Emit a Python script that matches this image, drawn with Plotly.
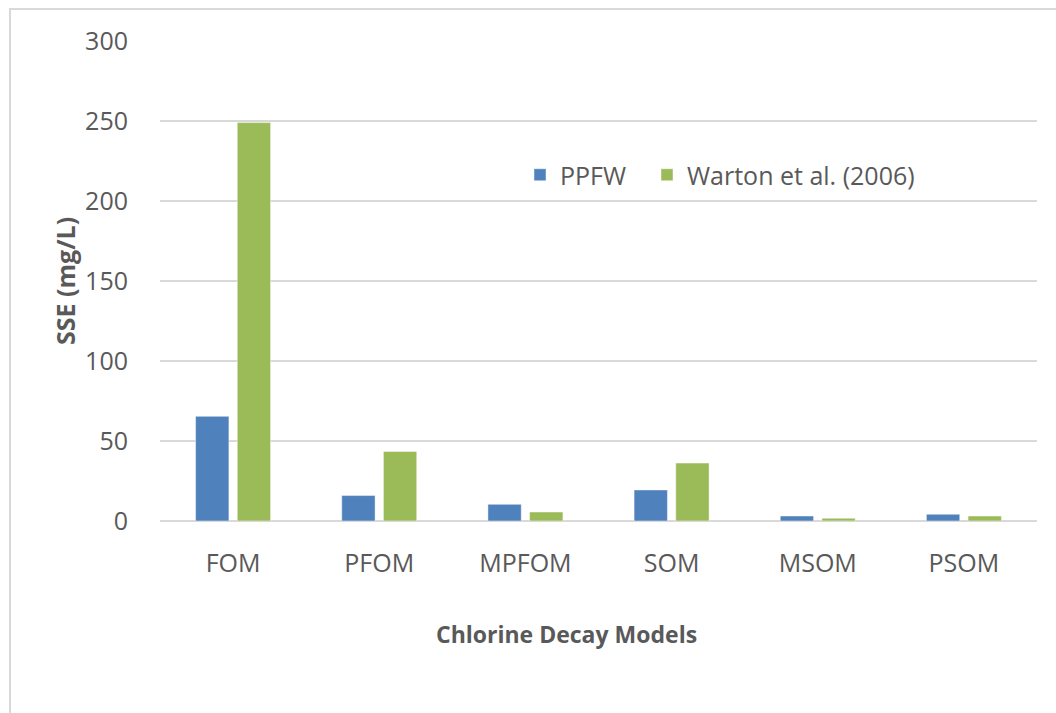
import plotly.graph_objects as go

# Chlorine decay model comparison: sum of squared errors per model
models = ["FOM", "PFOM", "MPFOM", "SOM", "MSOM", "PSOM"]
sse_ppfw = [65.4, 15.9, 10.4, 19.4, 3.1, 4.2]
sse_warton = [249, 43.4, 5.6, 36.2, 1.7, 3.1]
y_ticks = [0, 50, 100, 150, 200, 250, 300]

text_color = "#595959"
grid_color = "#d9d9d9"

fig = go.Figure()
fig.add_trace(go.Bar(
    x=models, y=sse_ppfw, name="PPFW", legend="legend",
    marker=dict(color="#4f81bd", line=dict(color="rgba(255,255,255,0.45)", width=1)),
))
fig.add_trace(go.Bar(
    x=models, y=sse_warton, name="Warton et al. (2006)", legend="legend2",
    marker=dict(color="#9bbb59", line=dict(color="rgba(255,255,255,0.45)", width=1)),
))

W, H = 1056, 713
L, R, T, B = 160, 19, 41, 192
pw, ph = W - L - R, H - T - B

def px_x(x):
    return (x - L) / pw

def px_y(y):
    return (H - B - y) / ph

def legend_at(x_px):
    return dict(
        orientation="h", x=px_x(x_px), xanchor="left",
        y=px_y(175), yanchor="middle",
        font=dict(size=25, color=text_color),
        bgcolor="rgba(0,0,0,0)", itemclick=False,
    )

fig.update_layout(
    width=W, height=H,
    margin=dict(l=L, r=R, t=T, b=B, pad=0),
    paper_bgcolor="white", plot_bgcolor="white",
    barmode="group", bargap=0.43, bargroupgap=0.2,
    font=dict(family="Open Sans", color=text_color, size=24),
    showlegend=True,
    legend=legend_at(520),
    legend2=legend_at(647),
    xaxis=dict(
        showgrid=False, showline=False, zeroline=False,
        ticks="outside", ticklen=20, tickcolor="rgba(0,0,0,0)",
        tickfont=dict(size=25, color=text_color),
    ),
    yaxis=dict(
        range=[0, 300], tickvals=y_ticks,
        showgrid=True, gridcolor=grid_color, gridwidth=2,
        zeroline=True, zerolinecolor=grid_color, zerolinewidth=2,
        showline=False,
        ticks="outside", ticklen=26, tickcolor="rgba(0,0,0,0)",
        tickfont=dict(size=25, color=text_color),
    ),
    annotations=[
        dict(text="<b>Chlorine Decay Models</b>", xref="paper", yref="paper",
             x=px_x(566), y=px_y(634), xanchor="center", yanchor="middle",
             showarrow=False, font=dict(size=23, color=text_color)),
        dict(text="<b>SSE (mg/L)</b>", xref="paper", yref="paper",
             x=px_x(65), y=px_y(281), xanchor="center", yanchor="middle",
             textangle=-90, showarrow=False, font=dict(size=25, color=text_color)),
    ],
    shapes=[
        dict(type="rect", xref="paper", yref="paper",
             x0=px_x(10), x1=px_x(1100), y0=px_y(760), y1=px_y(9),
             line=dict(color=grid_color, width=2), fillcolor="rgba(0,0,0,0)",
             layer="below"),
    ],
)

fig.write_html("out.html")
